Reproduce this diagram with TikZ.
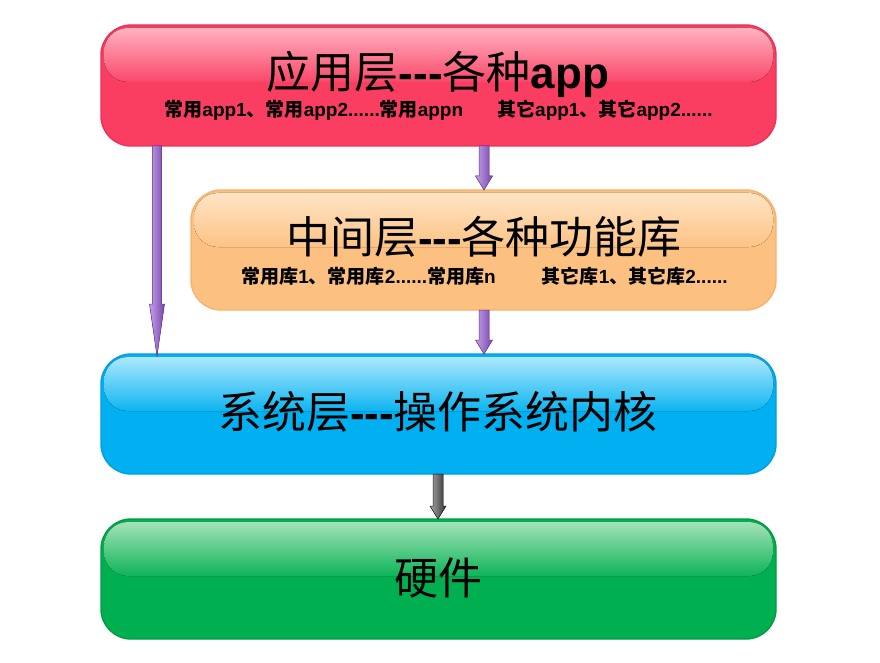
\documentclass[tikz,border=0pt]{standalone}
\usepackage{fontspec}
\newfontfamily\cjk{Noto Sans CJK SC}
\newfontfamily\lat{Liberation Sans}
\usetikzlibrary{calc}
\definecolor{redbase}{RGB}{250,62,98}
\definecolor{redrim}{RGB}{236,48,86}
\definecolor{redhi}{RGB}{255,178,192}
\definecolor{orbase}{RGB}{252,192,128}
\definecolor{orrim}{RGB}{248,178,108}
\definecolor{orhi}{RGB}{255,228,196}
\definecolor{blbase}{RGB}{0,176,240}
\definecolor{blrim}{RGB}{0,158,226}
\definecolor{blhi}{RGB}{172,232,252}
\definecolor{grbase}{RGB}{0,176,80}
\definecolor{grrim}{RGB}{0,156,66}
\definecolor{grhi}{RGB}{164,226,184}
\definecolor{purL}{RGB}{196,160,232}
\definecolor{purR}{RGB}{118,70,172}
\definecolor{purD}{RGB}{104,58,156}
\tikzset{
  layerbox/.style={rectangle, rounded corners=30pt, line width=1.4pt, inner sep=0pt, outer sep=0pt},
  titletext/.style={font=\fontsize{44}{48}\selectfont, inner sep=0pt, anchor=center},
  subtext/.style={font=\fontsize{19}{21}\selectfont\bfseries, inner sep=0pt, anchor=center},
}
\newcommand\glossy[3]{% node, hi colour, base colour
  \fill[rounded corners=24pt, top color=#2, bottom color=#3!92!#2]
    ($(#1.north west)+(3,3)$) rectangle ($(#1.north east)+(-3,57)$);
}
% fat shaded arrow: start, end, shaft half width, head half width, head length, left col, right col, rim
\newcommand\fatarrow[8]{%
  \filldraw[draw=#8, line width=0.5pt, left color=#6, right color=#7]
    let \p1=#1, \p2=#2 in
    (\x1-#3,\y1) -- (\x1+#3,\y1) -- (\x1+#3,\y2+#5) -- (\x1+#4,\y2+#5)
    -- (\x1,\y2) -- (\x1-#4,\y2+#5) -- (\x1-#3,\y2+#5) -- cycle;
}
\begin{document}
\begin{tikzpicture}[x=1pt,y=-1pt]
\useasboundingbox (0,0) rectangle (880,663);
% boxes
\node[layerbox, draw=redrim, fill=redbase, minimum width=675pt, minimum height=121pt] (app) at (438.5,85.5) {};
\glossy{app}{redhi}{redbase}
\node[layerbox, draw=orrim, fill=orbase, minimum width=585pt, minimum height=120pt] (mid) at (483.5,250) {};
\glossy{mid}{orhi}{orbase}
\node[layerbox, draw=blrim, fill=blbase, minimum width=675pt, minimum height=120pt] (sys) at (438.5,414) {};
\glossy{sys}{blhi}{blbase}
\node[layerbox, draw=grrim, fill=grbase, minimum width=675pt, minimum height=120pt] (hw) at (438.5,579) {};
\glossy{hw}{grhi}{grbase}
% texts
\node[titletext] (t1) at (438,74) {{\cjk 应用层}{\lat\bfseries ---}{\cjk 各种}{\lat\bfseries app}};
\node[subtext] (s1) at (438.5,110) {{\cjk 常用}{\lat app1}{\cjk 、常用}{\lat app2......}{\cjk 常用}{\lat appn}\hspace{34pt}{\cjk 其它}{\lat app1}{\cjk 、其它}{\lat app2......}};
\node[titletext] (t2) at (484,237) {{\cjk 中间层}{\lat\bfseries ---}{\cjk 各种功能库}};
\node[subtext] (s2) at (484.5,276) {{\cjk 常用库}{\lat 1}{\cjk 、常用库}{\lat 2......}{\cjk 常用库}{\lat n}\hspace{46pt}{\cjk 其它库}{\lat 1}{\cjk 、其它库}{\lat 2......}};
\node[titletext] (t3) at (438,412) {{\cjk 系统层}{\lat\bfseries ---}{\cjk 操作系统内核}};
\node[titletext] (t4) at (438,578) {{\cjk 硬件}};
% connectors
\fatarrow{($(app.south west)+(56,0)$)}{($(sys.north west)+(56,2)$)}{4.5pt}{7.5pt}{52pt}{purL}{purR}{purD}
\fatarrow{($(app.south west)+(383,0)$)}{($(mid.north west)+(293,0)$)}{5pt}{8.5pt}{14pt}{purL}{purR}{purD}
\fatarrow{($(mid.south west)+(293,0)$)}{($(sys.north west)+(383,0)$)}{5pt}{8.5pt}{14pt}{purL}{purR}{purD}
\fatarrow{($(sys.south west)+(337,0)$)}{($(hw.north west)+(337,0)$)}{5pt}{8pt}{13pt}{black!35}{black!80}{black!90}
\end{tikzpicture}
\end{document}
